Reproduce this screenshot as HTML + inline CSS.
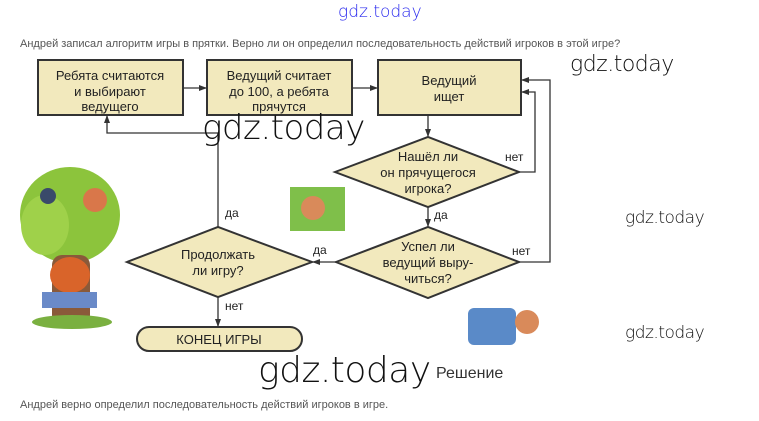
<!DOCTYPE html>
<html><head><meta charset="utf-8"><style>
body{margin:0;width:759px;height:421px;background:#fff;overflow:hidden;position:relative;font-family:"Liberation Sans","Noto Sans CJK SC",sans-serif}
.t{position:absolute;white-space:nowrap}
.wm{font-family:"DejaVu Sans","Liberation Sans",sans-serif;font-weight:200;color:#111;letter-spacing:-0.5px}
</style></head><body>
<svg width="759" height="421" style="position:absolute;left:0;top:0" font-family="Liberation Sans, sans-serif">
<defs><marker id="a" markerWidth="8" markerHeight="8" refX="7" refY="4" orient="auto" markerUnits="userSpaceOnUse"><path d="M0,1 L8,4 L0,7z" fill="#333"/></marker></defs>
<!-- illustrations -->
<ellipse cx="70" cy="215" rx="50" ry="48" fill="#8cc43c"/>
<ellipse cx="45" cy="225" rx="24" ry="30" fill="#9fd14a"/>
<circle cx="48" cy="196" r="8" fill="#3a4a6a"/>
<circle cx="95" cy="200" r="12" fill="#d9774a"/>
<rect x="52" y="255" width="38" height="70" rx="10" fill="#8a5a3a"/>
<ellipse cx="70" cy="275" rx="20" ry="18" fill="#d9642a"/>
<rect x="42" y="292" width="55" height="16" fill="#6a8ac8"/>
<ellipse cx="72" cy="322" rx="40" ry="7" fill="#7ab040"/>
<rect x="290" y="187" width="55" height="44" fill="#7fbf4a"/>
<circle cx="313" cy="208" r="12" fill="#d98a5a"/>
<rect x="468" y="308" width="48" height="37" rx="6" fill="#5a8ac8"/>
<circle cx="527" cy="322" r="12" fill="#d98a5a"/>
<g stroke="#333" stroke-width="2" fill="#f2e9bd">
<rect x="38" y="60" width="145" height="55"/>
<rect x="207" y="60" width="145" height="55"/>
<rect x="378" y="60" width="143" height="55"/>
<polygon points="335,172 428,137 519,172 428,207"/>
<polygon points="336,262 428,227 519,262 428,298"/>
<polygon points="127,262 218,227 312,262 218,297"/>
<rect x="137" y="327" width="165" height="24" rx="12"/>
</g>
<g stroke="#333" stroke-width="1.3" fill="none">
<line x1="183" y1="88" x2="206" y2="88" marker-end="url(#a)"/>
<line x1="352" y1="88" x2="377" y2="88" marker-end="url(#a)"/>
<line x1="428" y1="115" x2="428" y2="136" marker-end="url(#a)"/>
<line x1="428" y1="207" x2="428" y2="226" marker-end="url(#a)"/>
<polyline points="519,172 535,172 535,92 522,92" marker-end="url(#a)"/>
<polyline points="519,262 550,262 550,80 522,80" marker-end="url(#a)"/>
<line x1="336" y1="262" x2="313" y2="262" marker-end="url(#a)"/>
<polyline points="218,227 218,133 107,133 107,116" marker-end="url(#a)"/>
<line x1="218" y1="297" x2="218" y2="326" marker-end="url(#a)"/>
</g>
<g font-size="13" fill="#222" text-anchor="middle">
<text x="110" y="80">Ребята считаются</text><text x="110" y="96">и выбирают</text><text x="110" y="111">ведущего</text>
<text x="279" y="80">Ведущий считает</text><text x="279" y="96">до 100, а ребята</text><text x="279" y="111">прячутся</text>
<text x="449" y="85">Ведущий</text><text x="449" y="101">ищет</text>
<text x="428" y="161">Нашёл ли</text><text x="428" y="177">он прячущегося</text><text x="428" y="193">игрока?</text>
<text x="428" y="251">Успел ли</text><text x="428" y="267">ведущий выру-</text><text x="428" y="283">читься?</text>
<text x="218" y="259">Продолжать</text><text x="218" y="275">ли игру?</text>
<text x="219" y="344">КОНЕЦ ИГРЫ</text>
</g>
<g font-size="12" fill="#222">
<text x="505" y="161">нет</text><text x="512" y="255">нет</text>
<text x="434" y="219">да</text><text x="313" y="254">да</text>
<text x="225" y="217">да</text><text x="225" y="310">нет</text>
</g>
</svg>
<div class="t" style="left:338px;top:2px;font-size:17px;color:#2a2aee;font-family:'DejaVu Sans',sans-serif;font-weight:200">gdz.today</div>
<div class="t" style="left:20px;top:38px;font-size:11px;color:#555">Андрей записал алгоритм игры в прятки. Верно ли он определил последовательность действий игроков в этой игре?</div>
<div class="t wm" style="left:570px;top:52px;font-size:22px">gdz.today</div>
<div class="t wm" style="left:202px;top:108px;font-size:34px">gdz.today</div>
<div class="t wm" style="left:625px;top:208px;font-size:17px">gdz.today</div>
<div class="t wm" style="left:625px;top:323px;font-size:17px">gdz.today</div>
<div class="t wm" style="left:258px;top:350px;font-size:36px">gdz.today</div>
<div class="t" style="left:436px;top:365px;font-size:16px;color:#333">Решение</div>
<div class="t" style="left:20px;top:399px;font-size:11px;color:#555">Андрей верно определил последовательность действий игроков в игре.</div>
</body></html>
